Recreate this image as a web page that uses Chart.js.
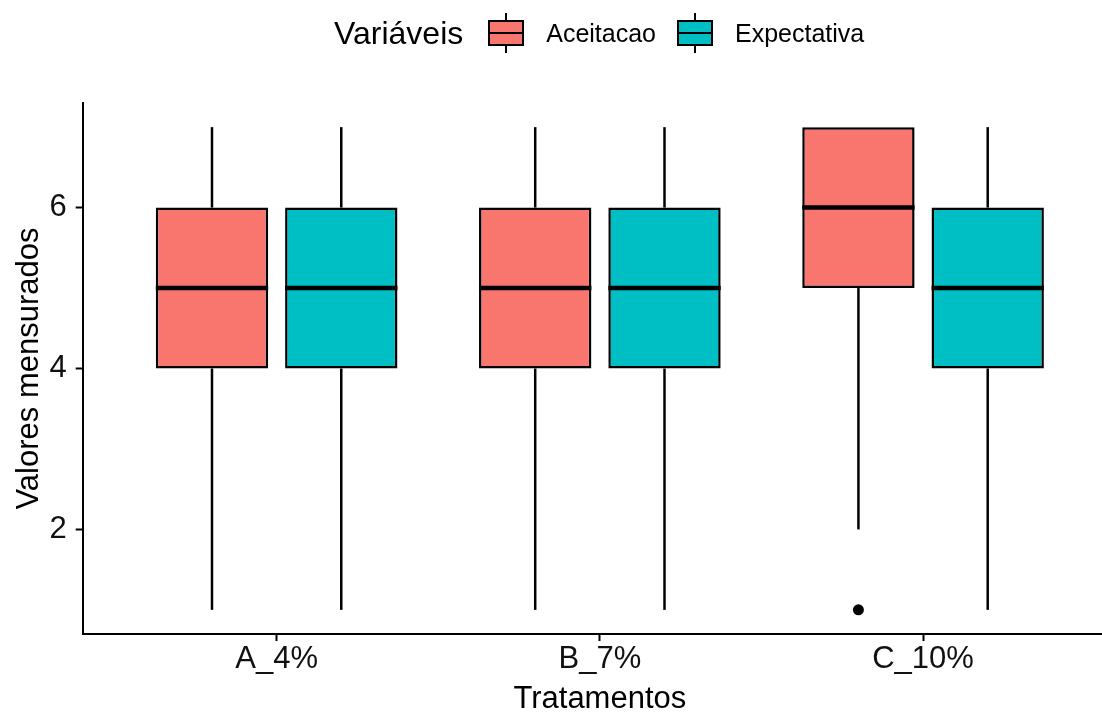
<!DOCTYPE html>
<html>
<head>
<meta charset="utf-8">
<script src="https://cdn.jsdelivr.net/npm/chart.js@4.4.0/dist/chart.umd.min.js"></script>
<style>
    body { margin: 0; overflow: hidden; background: #fff; font-family: 'Liberation Sans', Arial, sans-serif; }
    #wrap { position: relative; width: 1118px; height: 713px; }
    #legend { position: absolute; left: 334px; top: 13px; height: 40px; display: flex; align-items: center; color: #000; }
    #legend .title { font-size: 32px; margin-right: 25px; }
    #legend .label { font-size: 25px; margin-left: 22px; margin-right: 21px; }
    .key { position: relative; width: 36px; height: 40px; }
    .key .stub { position: absolute; left: 17px; width: 2px; height: 8px; background: #000; }
    .key .box { position: absolute; left: 0; top: 7px; width: 36px; height: 26px; box-sizing: border-box; border: 2px solid #000; }
    .key .med { position: absolute; left: 0; top: 19px; width: 36px; height: 2px; background: #000; }
</style>
</head>
<body>
<div id="wrap">
    <canvas id="boxChart"></canvas>
    <div id="legend"></div>
</div>
<script>
const categories = ['A_4%', 'B_7%', 'C_10%'];
const seriesNames = ['Aceitacao', 'Expectativa'];
const seriesColors = ['#F8766D', '#00BFC4'];
const legendTitle = 'Variáveis';

// five-number summaries per category
const aceitacaoMin = [1, 1, 2];
const aceitacaoQ1 = [4, 4, 5];
const aceitacaoMedian = [5, 5, 6];
const aceitacaoQ3 = [6, 6, 7];
const aceitacaoMax = [7, 7, 7];

const expectativaMin = [1, 1, 1];
const expectativaQ1 = [4, 4, 4];
const expectativaMedian = [5, 5, 5];
const expectativaQ3 = [6, 6, 6];
const expectativaMax = [7, 7, 7];

// outliers: [series index, category index, value]
const outliers = [[0, 2, 1]];

const yTicks = [2, 4, 6];

const series = [
    { min: aceitacaoMin, q1: aceitacaoQ1, med: aceitacaoMedian, q3: aceitacaoQ3, max: aceitacaoMax },
    { min: expectativaMin, q1: expectativaQ1, med: expectativaMedian, q3: expectativaQ3, max: expectativaMax }
];

Chart.defaults.font.family = "'Liberation Sans', Arial, sans-serif";
Chart.defaults.color = '#000';

// whiskers behind the boxes, medians and outliers on top
const boxplotParts = {
    id: 'boxplotParts',
    beforeDatasetsDraw(chart) {
        const ctx = chart.ctx;
        const y = chart.scales.y;
        ctx.save();
        ctx.strokeStyle = '#000';
        ctx.lineWidth = 2.5;
        series.forEach((s, d) => {
            chart.getDatasetMeta(d).data.forEach((bar, i) => {
                if (s.max[i] > s.q3[i]) {
                    ctx.beginPath();
                    ctx.moveTo(bar.x, y.getPixelForValue(s.q3[i]));
                    ctx.lineTo(bar.x, y.getPixelForValue(s.max[i]));
                    ctx.stroke();
                }
                if (s.min[i] < s.q1[i]) {
                    ctx.beginPath();
                    ctx.moveTo(bar.x, y.getPixelForValue(s.q1[i]));
                    ctx.lineTo(bar.x, y.getPixelForValue(s.min[i]));
                    ctx.stroke();
                }
            });
        });
        ctx.restore();
    },
    afterDatasetsDraw(chart) {
        const ctx = chart.ctx;
        const y = chart.scales.y;
        ctx.save();
        ctx.strokeStyle = '#000';
        ctx.lineWidth = 4.5;
        series.forEach((s, d) => {
            chart.getDatasetMeta(d).data.forEach((bar, i) => {
                const py = y.getPixelForValue(s.med[i]);
                ctx.beginPath();
                ctx.moveTo(bar.x - bar.width / 2, py);
                ctx.lineTo(bar.x + bar.width / 2, py);
                ctx.stroke();
            });
        });
        ctx.fillStyle = '#000';
        outliers.forEach(([d, i, v]) => {
            const bar = chart.getDatasetMeta(d).data[i];
            ctx.beginPath();
            ctx.arc(bar.x, y.getPixelForValue(v), 5.5, 0, Math.PI * 2);
            ctx.fill();
        });
        ctx.restore();
    }
};

const datasets = series.map((s, d) => ({
    label: seriesNames[d],
    data: categories.map((c, i) => ({ x: i + 1, y: [s.q1[i], s.q3[i]] })),
    backgroundColor: seriesColors[d],
    borderColor: '#000',
    borderWidth: 2.5,
    borderSkipped: false,
    categoryPercentage: 0.8,
    barPercentage: 0.869
}));

new Chart(document.getElementById('boxChart'), {
    type: 'bar',
    data: { datasets },
    options: {
        responsive: true,
        maintainAspectRatio: false,
        animation: false,
        layout: { padding: { top: 103, left: 0, right: 1, bottom: 0 } },
        plugins: { legend: { display: false }, tooltip: { enabled: false } },
        scales: {
            x: {
                type: 'linear',
                offset: false,
                min: 0.4,
                max: 3.6,
                afterBuildTicks: (scale) => { scale.ticks = categories.map((c, i) => ({ value: i + 1 })); },
                afterFit: (scale) => { scale.height = 79; },
                ticks: {
                    callback: (v) => categories[v - 1],
                    font: { size: 31, lineHeight: 1.2 },
                    color: '#111',
                    padding: 0,
                    maxRotation: 0
                },
                grid: { display: true, offset: false, drawOnChartArea: false, drawTicks: true, tickLength: 7, tickColor: '#000', tickWidth: 2 },
                border: { display: true, color: '#000', width: 2 },
                title: { display: true, text: 'Tratamentos', font: { size: 31, lineHeight: 0.9 }, padding: { top: 0, bottom: 0 }, color: '#000' }
            },
            y: {
                min: 0.7,
                max: 7.3,
                afterBuildTicks: (scale) => { scale.ticks = yTicks.map(v => ({ value: v })); },
                afterFit: (scale) => { scale.width = 82.7; },
                ticks: { font: { size: 31 }, color: '#111', padding: 9 },
                grid: { display: true, drawOnChartArea: false, drawTicks: true, tickLength: 7, tickColor: '#000', tickWidth: 2 },
                border: { display: true, color: '#000', width: 2 },
                title: { display: true, text: 'Valores mensurados', font: { size: 31, lineHeight: 0.9 }, padding: { top: 16, bottom: 0 }, color: '#000' }
            }
        }
    },
    plugins: [boxplotParts]
});

// legend in the ggplot style: title and boxplot keys on one row
const legendEl = document.getElementById('legend');
legendEl.innerHTML = `<span class="title">${legendTitle}</span>` + seriesNames.map((name, d) => `
    <div class="key">
        <div class="stub" style="top:0"></div>
        <div class="box" style="background:${seriesColors[d]}"></div>
        <div class="med"></div>
        <div class="stub" style="top:32px"></div>
    </div>
    <span class="label">${name}</span>
`).join('');
</script>
</body>
</html>
